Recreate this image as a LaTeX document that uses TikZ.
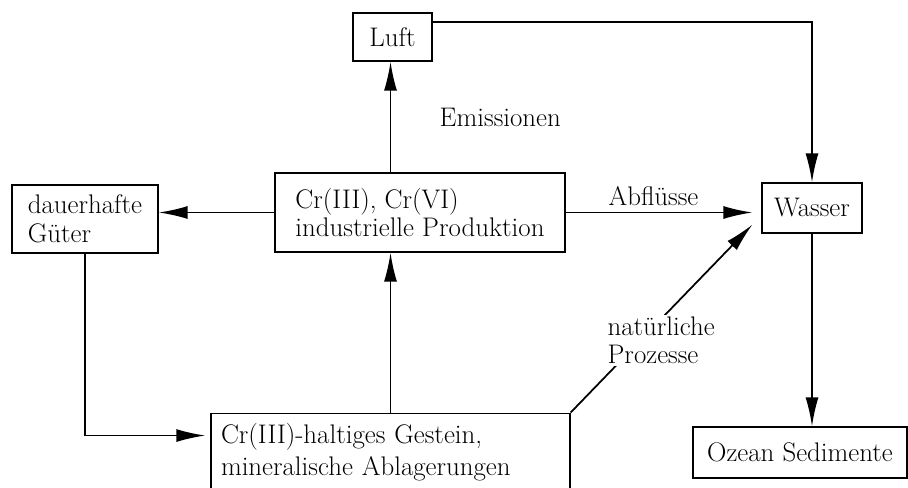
\documentclass[tikz,border=0pt]{standalone}
\usepackage{tikz}
\usetikzlibrary{shapes.geometric, arrows.meta}
\tikzstyle{box} = [rectangle, draw=black, line width=0.75pt, align=left, inner sep=0.2cm]
\tikzstyle{arrow} = [line width=1pt, -{Latex[length=0.58cm, width=0.26cm]}]
\tikzstyle{flowlabel} = [align=left, inner sep=1pt]

\begin{document}
\begin{tikzpicture}[node distance=2cm, every node/.style={font=\fontsize{15.3}{16.2}\selectfont}]
\useasboundingbox (0,0) rectangle (18.16,9.76);
\clip (0,0) rectangle (18.16,9.76);

% Nodes
\node (prod) [box, minimum width=5.8cm, minimum height=1.58cm] at (8.40,5.51) {Cr(III), Cr(VI)\\industrielle Produktion};
\node (luft) [box, node distance=3.51cm, above of=prod, xshift=-0.55cm, minimum width=1.58cm, minimum height=0.96cm] {Luft};
\node (guter) [box, node distance=6.70cm, left of=prod, yshift=-0.13cm, minimum width=2.92cm, minimum height=1.36cm] {dauerhafte\\Güter};
\node (wasser) [box, node distance=7.84cm, right of=prod, yshift=0.09cm, minimum width=2.0cm, minimum height=1.0cm] {Wasser};
\node (gestein) [box, node distance=4.79cm, below of=prod, xshift=-0.59cm, text width=6.78cm, minimum height=1.52cm] {Cr(III)-haltiges Gestein,\\[2pt]mineralische Ablagerungen};
\node (ozean) [box, node distance=4.89cm, below of=wasser, xshift=-0.24cm, inner xsep=0.1cm, minimum width=4.28cm, minimum height=1.02cm] {Ozean Sedimente};

% Arrows
\draw [arrow] (gestein.north) -- (gestein.north |- prod.south);
\draw [arrow] (gestein.north |- prod.north) -- node[right, xshift=0.85cm] {Emissionen} (gestein.north |- luft.south);
\draw [arrow] (prod.west) -- (prod.west -| guter.east);
\draw [arrow] (guter.south) |- ([yshift=-0.46cm, xshift=-0.1cm]gestein.north west);
\draw [arrow, shorten >=0.18cm] (prod.east) -- node[above, xshift=-0.2cm] {Abflüsse} (prod.east -| wasser.west);
\draw [arrow] ([yshift=0.3cm]luft.east) -| (wasser.north);
\draw [arrow] (wasser.south) -- (wasser.south |- ozean.north);
\draw [arrow] (gestein.north east) -- node[flowlabel, fill=white, pos=0.49, xshift=0.03cm, yshift=-0.4cm] {natürliche\\Prozesse} ([xshift=-0.18cm, yshift=0.18cm]wasser.south west);

\end{tikzpicture}
\end{document}
